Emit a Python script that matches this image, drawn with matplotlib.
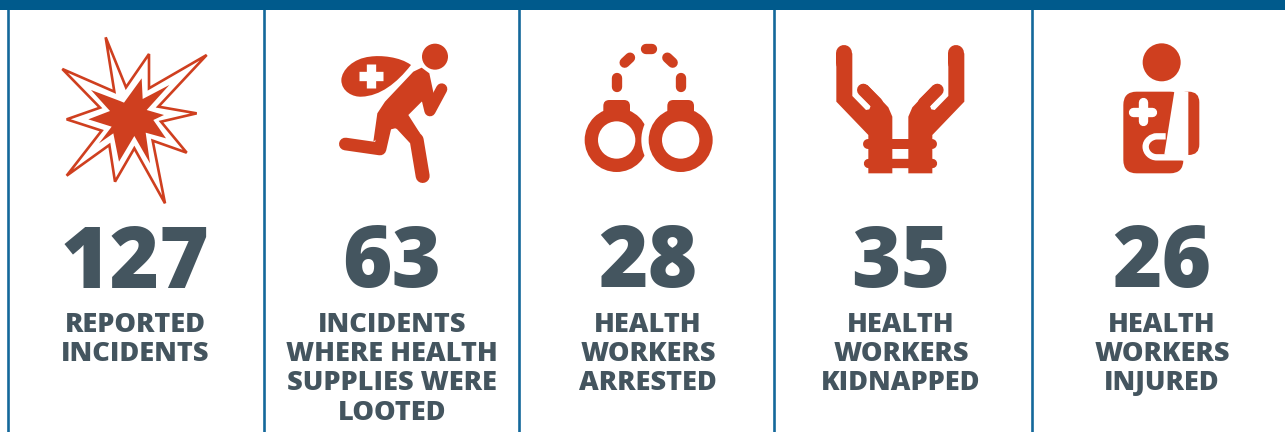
import matplotlib
matplotlib.use('Agg')
import matplotlib.pyplot as plt
import matplotlib.patches as mpatches
from matplotlib.path import Path

values = ['127', '63', '28', '35', '26']
labels = [
    ['REPORTED', 'INCIDENTS'],
    ['INCIDENTS', 'WHERE HEALTH', 'SUPPLIES WERE', 'LOOTED'],
    ['HEALTH', 'WORKERS', 'ARRESTED'],
    ['HEALTH', 'WORKERS', 'KIDNAPPED'],
    ['HEALTH', 'WORKERS', 'INJURED'],
]

RED = '#cf3f1f'
TEXT = '#44555f'
BLUE = '#005a8c'
LINE = '#14689b'

centres = [135, 392, 648, 901, 1162]
dividers = [8, 264, 519.5, 774.5, 1032.5]
label_ys = [322, 351, 380, 410]

fig = plt.figure(figsize=(12.85, 4.32), dpi=100)
ax = fig.add_axes([0, 0, 1, 1])
ax.set_xlim(0, 1285)
ax.set_ylim(432, 0)
ax.axis('off')


def conv(pts, ox, oy):
    return [(x / 3 + ox, y / 3 + oy) for x, y in pts]


def poly(pts, ox, oy, color=RED, z=3, **kw):
    ax.add_patch(mpatches.Polygon(conv(pts, ox, oy), closed=True, fc=color, ec='none', zorder=z, **kw))


def stroke(pts, width, ox, oy, color=RED, z=3, cap='round'):
    xy = conv(pts, ox, oy)
    ax.plot([p[0] for p in xy], [p[1] for p in xy], color=color, lw=width / 3 * 0.72,
            solid_capstyle=cap, solid_joinstyle='round', zorder=z)


def circle(x, y, r, ox, oy, color=RED, z=3):
    c = conv([(x, y)], ox, oy)[0]
    ax.add_patch(mpatches.Circle(c, r / 3, fc=color, ec='none', zorder=z))


def round_box(x0, y0, x1, y1, r, ox, oy, color=RED, z=3):
    (ax0, ay0), (ax1, ay1) = conv([(x0, y0), (x1, y1)], ox, oy)
    rad = r / 3
    ax.add_patch(mpatches.FancyBboxPatch((ax0 + rad, ay0 + rad), ax1 - ax0 - 2 * rad, ay1 - ay0 - 2 * rad,
                                         boxstyle='round,pad=%f,rounding_size=%f' % (rad, rad),
                                         fc=color, ec='none', zorder=z))


### frame ###
ax.add_patch(mpatches.Rectangle((0, 0), 1285, 10, fc=BLUE, ec='none', zorder=2))
for d in dividers:
    ax.plot([d - 0.3, d - 0.3], [0, 432], color=LINE, lw=1.9, zorder=1, solid_capstyle='butt')

### explosion ###
burst_out = [(317, 112), (378, 262), (447, 162), (447, 265), (620, 165), (475, 320), (590, 340), (483, 365),
             (560, 458), (458, 422), (495, 610), (403, 445), (345, 545), (328, 435), (200, 527), (305, 392),
             (200, 358), (300, 323), (187, 207), (343, 275)]
burst_in = [(273, 270), (360, 303), (372, 308), (425, 235), (428, 297), (508, 255), (440, 330), (492, 345),
            (460, 360), (498, 415), (437, 398), (450, 490), (403, 408), (357, 485), (340, 400), (297, 430),
            (335, 380), (265, 358), (330, 333)]
ax.add_patch(mpatches.Polygon(conv(burst_out, 0, 0), closed=True, fc='white', ec=RED, lw=1.9,
                              joinstyle='miter', zorder=3))
poly(burst_in, 0, 0, z=4)

### looter ###
ox, oy = 270, 20
circle(495, 110, 39, ox, oy)
sack = [(423, 135), (390, 110), (330, 105), (300, 110), (250, 115), (215, 150), (214, 180),
        (214, 215), (250, 232), (275, 230), (330, 228), (380, 190), (423, 135)]
codes = [Path.MOVETO] + [Path.CURVE4] * 12
ax.add_patch(mpatches.PathPatch(Path(conv(sack, ox, oy), codes), fc=RED, ec='none', zorder=3))
stroke([(266, 168), (338, 168)], 28, ox, oy, 'white', 4, 'butt')
stroke([(302, 132), (302, 204)], 28, ox, oy, 'white', 4, 'butt')
poly([(322, 280), (345, 245), (430, 155), (455, 143), (478, 160), (495, 240), (455, 245), (415, 285),
      (450, 340), (375, 325), (355, 330), (310, 365)], ox, oy)
stroke([(226, 372), (330, 387), (350, 300)], 38, ox, oy)
stroke([(375, 290), (440, 360), (458, 468)], 42, ox, oy)
stroke([(470, 230), (480, 272), (515, 207)], 34, ox, oy)

### handcuffs ###
ox, oy = 520, 20
round_box(250, 240, 330, 300, 18, ox, oy)
circle(290, 360, 96, ox, oy)
circle(290, 360, 56, ox, oy, 'white', 4)
circle(482, 360, 118, ox, oy, 'white', 4)
round_box(442, 240, 522, 300, 18, ox, oy, z=5)
circle(482, 360, 96, ox, oy, z=5)
circle(482, 360, 56, ox, oy, 'white', 6)
stroke([(290, 175), (290, 200)], 31, ox, oy)
stroke([(314, 128), (330, 113)], 31, ox, oy)
stroke([(377, 88), (395, 88)], 31, ox, oy)
stroke([(442, 113), (458, 128)], 31, ox, oy)
stroke([(482, 175), (482, 200)], 31, ox, oy)

### tied hands ###
ox, oy = 780, 20
hand = [(169, 100), (217, 100), (217, 228), (258, 270), (268, 268), (272, 258), (240, 222), (262, 195),
        (325, 262), (337, 290), (337, 460), (265, 460), (265, 345), (169, 245)]
poly(hand, ox, oy)
poly([(722 - x, y) for x, y in hand], ox, oy)
stroke([(193, 100), (193, 130)], 48, ox, oy)
stroke([(529, 100), (529, 130)], 48, ox, oy)
stroke([(250, 210), (290, 250)], 38, ox, oy)
stroke([(472, 210), (432, 250)], 38, ox, oy)
stroke([(265, 372), (457, 372)], 30, ox, oy)
stroke([(265, 429), (457, 429)], 28, ox, oy)

### injured worker ###
ox, oy = 1035, 20
circle(380, 127, 57, ox, oy)
round_box(265, 215, 445, 460, 40, ox, oy)
round_box(425, 215, 493, 405, 32, ox, oy)
poly([(418, 215), (460, 215), (460, 422), (445, 422), (388, 403)], ox, oy, 'white', 4)
sling = [(392, 349), (365, 349), (350, 349), (332, 362), (332, 380), (332, 398), (348, 412), (365, 412), (445, 412)]
sling_codes = [Path.MOVETO, Path.LINETO, Path.CURVE4, Path.CURVE4, Path.CURVE4, Path.CURVE4, Path.CURVE4, Path.CURVE4, Path.LINETO]
ax.add_patch(mpatches.PathPatch(Path(conv(sling, ox, oy), sling_codes), fc='none', ec='white',
                                lw=19 / 3 * 0.72, capstyle='butt', zorder=4))
stroke([(295, 275), (352, 275)], 28, ox, oy, 'white', 5)
stroke([(323, 247), (323, 304)], 28, ox, oy, 'white', 5)

### numbers and captions ###
for cx, val, lines in zip(centres, values, labels):
    ax.text(cx, 255, val, ha='center', va='center_baseline', fontsize=61, fontweight='heavy',
            family='Open Sans', color=TEXT)
    for y, line in zip(label_ys, lines):
        ax.text(cx, y, line, ha='center', va='center_baseline', fontsize=19.5, fontweight='heavy',
                family='Open Sans', color=TEXT)

fig.savefig('out.png', dpi=100)
